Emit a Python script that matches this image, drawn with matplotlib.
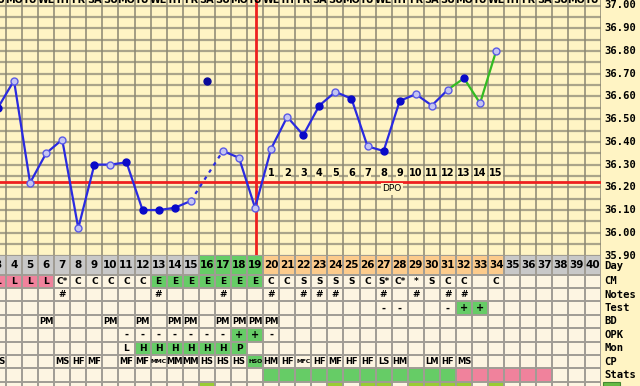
import matplotlib
matplotlib.use("Agg")
import matplotlib.pyplot as plt
from matplotlib.patches import Rectangle

# temperature readings (C) by cycle day, None = no plotted reading
temp_days = list(range(3, 35))
temps = [36.55, 36.67, 36.22, 36.35, 36.41, 36.02, 36.30, 36.30, 36.31, 36.10,
         36.10, 36.11, 36.14, None, 36.36, 36.33, 36.11, 36.37, 36.51, 36.43,
         36.56, 36.62, 36.59, 36.38, 36.36, 36.58, 36.61, 36.56, 36.63, 36.68,
         36.57, 36.80]
filled = [1, 0, 0, 0, 0, 0, 1, 0, 1, 1, 1, 1, 0, 0, 0, 0, 0, 0, 0, 1,
          1, 0, 1, 0, 1, 1, 0, 0, 0, 1, 0, 0]
discard_day, discard_temp = 16, 36.67
coverline = 36.225
ovulation_day = 19.05

weekdays = ["MO", "TU", "WE", "TH", "FR", "SA", "SU"]
temp_labels = ["37.00", "36.90", "36.80", "36.70", "36.60", "36.50", "36.40",
               "36.30", "36.20", "36.10", "36.00", "35.90"]
row_names = ["Day", "CM", "Notes", "Test", "BD", "OPK", "Mon", "CP", "Stats"]

cm_text = {3: "L", 4: "L", 5: "L", 6: "L", 7: "C*", 8: "C", 9: "C", 10: "C", 11: "C",
           12: "C", 13: "E", 14: "E", 15: "E", 16: "E", 17: "E", 18: "E", 19: "E",
           20: "C", 21: "C", 22: "S", 23: "S", 24: "S", 25: "S", 26: "C", 27: "S*",
           28: "C*", 29: "*", 30: "S", 31: "C", 32: "C", 34: "C"}
notes_days = [7, 13, 17, 20, 22, 23, 24, 27, 29, 31, 32]
test_text = {27: "-", 28: "-", 31: "-", 32: "+", 33: "+"}
bd_days = [6, 10, 12, 14, 15, 17, 18, 19, 20]
opk_text = {11: "-", 12: "-", 13: "-", 14: "-", 15: "-", 16: "-", 17: "-",
            18: "+", 19: "+", 20: "-"}
mon_text = {11: "L", 12: "H", 13: "H", 14: "H", 15: "H", 16: "H", 17: "H", 18: "P"}
cp_text = {3: "MS", 7: "MS", 8: "HF", 9: "MF", 11: "MF", 12: "MF", 13: "MMC",
           14: "MM", 15: "MM", 16: "HS", 17: "HS", 18: "HS", 19: "HSO", 20: "HM",
           21: "HF", 22: "MFC", 23: "HF", 24: "MF", 25: "HF", 26: "HF", 27: "LS",
           28: "HM", 30: "LM", 31: "HF", 32: "MS"}

# coloured cells
day_green = [16, 17, 18, 19]
day_orange = list(range(20, 35))
cm_pink = [3, 4, 5, 6]
cm_green = list(range(13, 20))
test_green = [32, 33]
opk_green = [18, 19]
mon_green = list(range(12, 19))
cp_green = [19]
stats_green = list(range(20, 32))
stats_pink = list(range(32, 38))
extra_green = [16, 24, 26, 27, 29, 30, 31, 32, 34]

YELLOW = "#fff4c4"
CREAM = "#fdf5e2"
GRID_V = "#8a8672"
GRID_H = "#aaa48a"
TAB_LINE = "#a09c94"
GRAY = "#c8c8c8"
GREEN = "#66cc66"
ORANGE = "#fccb8c"
PINK = "#f0829c"
LGREEN = "#99cc33"
BLUE = "#2a2ae0"
LINE_GREEN = "#33bb22"
RED = "#ee2020"

W, H = 640, 386
fig = plt.figure(figsize=(6.4, 3.86), dpi=100, facecolor=YELLOW)

x_left = 3 + 0.129
x_right = 40.5
ax_w = 600.6 / W
t_top = 37.00 + 5.5 / 227.3
t_bot = 37.00 - 249.0 / 227.3
split = 254.5

ax = fig.add_axes([0, 1 - split / H, ax_w, split / H])
ax.set_facecolor(YELLOW)
ax.set_xlim(x_left, x_right)
ax.set_ylim(t_bot, t_top)
ax.axis("off")

# grid
hl = [35.90 + 0.05 * i for i in range(24)]
ax.hlines(hl, x_left, x_right, color=GRID_H, lw=1.6, zorder=1)
ax.vlines([d + 0.5 for d in range(2, 41)], t_bot, t_top, color=GRID_V, lw=1.1, zorder=1)

# coverline and ovulation line
ax.axhline(coverline, color=RED, lw=2, zorder=2)
ax.axvline(ovulation_day, color=RED, lw=2, zorder=2)

# temperature line
def seg(d0, d1):
    xs, ys = [], []
    for d, t in zip(temp_days, temps):
        if d0 <= d <= d1 and t is not None:
            xs.append(d)
            ys.append(t)
    return xs, ys

xa, ya = seg(3, 15)
ax.plot(xa, ya, color=BLUE, lw=1.6, zorder=3)
xb, yb = seg(17, 31)
ax.plot(xb, yb, color=BLUE, lw=1.6, zorder=3)
ax.plot([15, 17], [temps[12], temps[14]], color=BLUE, lw=1.6, ls=(0, (1.6, 2.2)), zorder=3)
xc, yc = seg(31, 34)
ax.plot(xc, yc, color=LINE_GREEN, lw=1.6, zorder=3)

for d, t, f in zip(temp_days, temps, filled):
    if t is None:
        continue
    if f:
        ax.plot(d, t, "o", ms=5, mfc="#0a0ac8", mec="#0a0ac8", zorder=4)
    else:
        ax.plot(d, t, "o", ms=5, mfc="#c4c4f2", mec="#5a5ae6", mew=1, zorder=4)
ax.plot(discard_day, discard_temp, "o", ms=5, mfc="#0a0a9a", mec="#0a0a9a", zorder=4)

# DPO numbers
for n in range(1, 16):
    ax.text(19 + n, 36.263, str(n), ha="center", va="center", fontsize=7,
            fontweight="bold", color="black", zorder=5,
            bbox=dict(boxstyle="square,pad=0.05", fc=YELLOW, ec="none"))
ax.text(27.5, 36.193, "DPO", ha="center", va="center", fontsize=6.5,
        color="black", zorder=5,
        bbox=dict(boxstyle="square,pad=0.15", fc=YELLOW, ec="none"))

# weekday labels cut off at the top
for d in range(3, 41):
    ax.text(d, t_top, weekdays[(d - 25) % 7], ha="center", va="center",
            fontsize=7, fontweight="bold", clip_on=False)

# temperature labels on the right
for i, lab in enumerate(temp_labels):
    ax.text(40.72, 37.00 - 0.1 * i, lab, ha="left", va="center", fontsize=7.6,
            family="DejaVu Sans Mono", fontweight="bold", clip_on=False, zorder=6)

# ---- table ----
unit = 13.4
tab_h = H - split
tb = fig.add_axes([0, 0, ax_w, tab_h / H])
tb.set_facecolor(CREAM)
tb.set_xlim(x_left, x_right)
tb.set_ylim(tab_h / unit, 0)
tb.axis("off")
tb.add_patch(Rectangle((x_left, 0), x_right - x_left, tab_h / unit, fc=CREAM, ec="none", zorder=0))

row_top = {"Day": 0}
y = 1.5
for name in row_names[1:] + ["Extra"]:
    row_top[name] = y
    y += 1

def cells(days, row, color):
    top = row_top[row]
    h = 1.5 if row == "Day" else 1
    tb.bar(days, h, bottom=top, width=1, color=color, align="center", zorder=1)

cells([d for d in range(3, 41) if d not in day_green + day_orange], "Day", GRAY)
cells(day_green, "Day", GREEN)
cells(day_orange, "Day", ORANGE)
cells(cm_pink, "CM", PINK)
cells(cm_green, "CM", GREEN)
cells(test_green, "Test", GREEN)
cells(opk_green, "OPK", GREEN)
cells(mon_green, "Mon", GREEN)
cells(cp_green, "CP", GREEN)
cells(stats_green, "Stats", GREEN)
cells(stats_pink, "Stats", PINK)
cells(extra_green, "Extra", LGREEN)

edges = [0] + [row_top[n] for n in row_names[1:]] + [row_top["Extra"], row_top["Extra"] + 1]
tb.hlines(edges, x_left, x_right, color=TAB_LINE, lw=1.4, zorder=2)
tb.vlines([d + 0.5 for d in range(2, 41)], 0, edges[-1], color=TAB_LINE, lw=1.4, zorder=2)

for d in range(3, 41):
    tb.text(d, 0.78, str(d), ha="center", va="center", fontsize=7.5,
            fontweight="bold", zorder=3)

def row_text(mapping, row, size=6.5):
    yc = row_top[row] + 0.52
    for d, s in mapping.items():
        fs = 4.3 if len(s) > 2 else size
        tb.text(d, yc, s, ha="center", va="center", fontsize=fs,
                fontweight="bold", zorder=3)

row_text(cm_text, "CM")
row_text({d: "#" for d in notes_days}, "Notes")
row_text(test_text, "Test", 7)
row_text({d: "PM" for d in bd_days}, "BD", 6)
row_text(opk_text, "OPK", 7)
row_text(mon_text, "Mon")
row_text(cp_text, "CP", 6)

centers = [0.85] + [row_top[n] + 0.5 for n in row_names[1:]]
for name, yc in zip(row_names, centers):
    tb.text(40.72, yc, name, ha="left", va="center", fontsize=7.6,
            family="DejaVu Sans Mono", fontweight="bold", clip_on=False, zorder=6)

# partial green label box bottom right
fig.patches.append(Rectangle((603 / W, 0), 17 / W, 4.5 / H, transform=fig.transFigure,
                             fc="#66bb44", ec="#448833", lw=0.8))

fig.savefig("out.png", dpi=100, facecolor=YELLOW)
